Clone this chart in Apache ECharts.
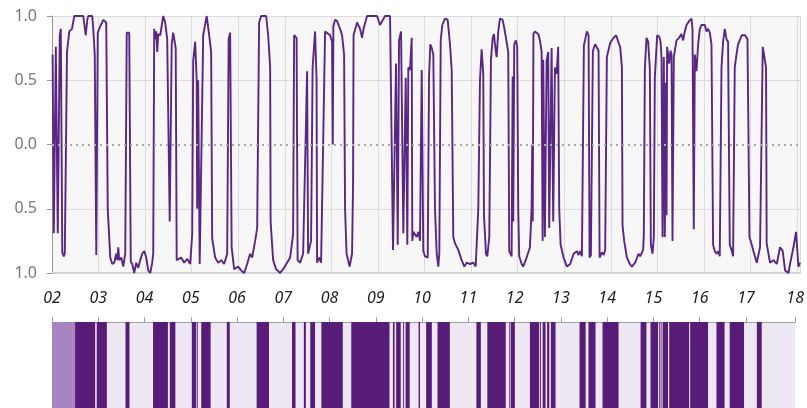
<!DOCTYPE html>
<html>
<head>
<meta charset="utf-8">
<script src="https://cdn.jsdelivr.net/npm/echarts@6/dist/echarts.min.js"></script>
<style>
  html, body { margin: 0; padding: 0; background: #fff; }
  #regime_chart { width: 807px; height: 408px; }
</style>
</head>
<body>
<div id="regime_chart"></div>
<script>
// years on the x axis (decimal years)
var dates = [
  2002.013, 2002.039, 2002.082, 2002.124, 2002.167, 2002.189, 2002.221, 2002.253, 2002.275, 2002.322,
  2002.371, 2002.429, 2002.479, 2002.672, 2002.725, 2002.758, 2002.779, 2002.865, 2002.886, 2002.918,
  2002.951, 2002.983, 2003.036, 2003.101, 2003.165, 2003.197, 2003.251, 2003.294, 2003.337, 2003.380,
  2003.401, 2003.423, 2003.444, 2003.487, 2003.530, 2003.573, 2003.605, 2003.659, 2003.691, 2003.723,
  2003.766, 2003.809, 2003.852, 2003.895, 2003.938, 2003.981, 2004.024, 2004.067, 2004.110, 2004.152,
  2004.174, 2004.195, 2004.217, 2004.238, 2004.260, 2004.281, 2004.324, 2004.388, 2004.431, 2004.474,
  2004.528, 2004.571, 2004.603, 2004.657, 2004.678, 2004.710, 2004.775, 2004.839, 2004.903, 2004.968,
  2005.011, 2005.032, 2005.075, 2005.107, 2005.118, 2005.139, 2005.172, 2005.204, 2005.247, 2005.322,
  2005.376, 2005.418, 2005.440, 2005.504, 2005.569, 2005.633, 2005.697, 2005.762, 2005.794, 2005.826,
  2005.858, 2005.912, 2005.998, 2006.062, 2006.127, 2006.191, 2006.255, 2006.298, 2006.363, 2006.406,
  2006.448, 2006.491, 2006.599, 2006.642, 2006.685, 2006.695, 2006.749, 2006.813, 2006.899, 2006.963,
  2007.049, 2007.114, 2007.178, 2007.200, 2007.253, 2007.275, 2007.328, 2007.393, 2007.479, 2007.500,
  2007.564, 2007.597, 2007.650, 2007.682, 2007.693, 2007.736, 2007.779, 2007.865, 2007.972, 2008.015,
  2008.030, 2008.043, 2008.079, 2008.122, 2008.187, 2008.230, 2008.273, 2008.294, 2008.326, 2008.391,
  2008.444, 2008.466, 2008.476, 2008.552, 2008.616, 2008.659, 2008.691, 2008.766, 2008.981, 2009.045,
  2009.152, 2009.260, 2009.324, 2009.345, 2009.388, 2009.425, 2009.453, 2009.496, 2009.528, 2009.545,
  2009.582, 2009.597, 2009.631, 2009.652, 2009.689, 2009.725, 2009.738, 2009.760, 2009.833, 2009.867,
  2009.903, 2009.940, 2009.974, 2010.011, 2010.069, 2010.097, 2010.124, 2010.155, 2010.189, 2010.225,
  2010.262, 2010.296, 2010.318, 2010.348, 2010.382, 2010.440, 2010.498, 2010.547, 2010.584, 2010.618,
  2010.655, 2010.725, 2010.798, 2010.854, 2010.906, 2010.976, 2011.047, 2011.099, 2011.155, 2011.191,
  2011.227, 2011.262, 2011.277, 2011.320, 2011.348, 2011.391, 2011.427, 2011.464, 2011.492, 2011.513,
  2011.549, 2011.584, 2011.620, 2011.678, 2011.706, 2011.749, 2011.798, 2011.820, 2011.871, 2011.893,
  2011.906, 2011.927, 2011.964, 2011.991, 2012.013, 2012.034, 2012.086, 2012.120, 2012.193, 2012.264,
  2012.300, 2012.313, 2012.324, 2012.339, 2012.371, 2012.443, 2012.479, 2012.515, 2012.537, 2012.550,
  2012.586, 2012.622, 2012.657, 2012.678, 2012.730, 2012.764, 2012.801, 2012.837, 2012.871, 2012.893,
  2012.923, 2012.987, 2013.058, 2013.129, 2013.202, 2013.273, 2013.309, 2013.343, 2013.380, 2013.423,
  2013.487, 2013.524, 2013.545, 2013.573, 2013.616, 2013.665, 2013.702, 2013.738, 2013.760, 2013.809,
  2013.846, 2013.880, 2013.916, 2013.987, 2014.060, 2014.116, 2014.168, 2014.202, 2014.239, 2014.253,
  2014.288, 2014.346, 2014.410, 2014.453, 2014.524, 2014.597, 2014.631, 2014.695, 2014.710, 2014.732,
  2014.768, 2014.803, 2014.839, 2014.861, 2014.897, 2014.925, 2014.946, 2014.996, 2015.039, 2015.069,
  2015.090, 2015.112, 2015.140, 2015.161, 2015.183, 2015.198, 2015.210, 2015.232, 2015.253, 2015.283,
  2015.305, 2015.326, 2015.354, 2015.412, 2015.468, 2015.517, 2015.554, 2015.590, 2015.627, 2015.683,
  2015.734, 2015.755, 2015.783, 2015.805, 2015.841, 2015.876, 2015.913, 2015.949, 2016.020, 2016.056,
  2016.090, 2016.127, 2016.163, 2016.198, 2016.234, 2016.271, 2016.305, 2016.341, 2016.378, 2016.412,
  2016.449, 2016.485, 2016.519, 2016.556, 2016.592, 2016.627, 2016.663, 2016.700, 2016.734, 2016.813,
  2016.884, 2016.936, 2016.979, 2017.028, 2017.065, 2017.135, 2017.206, 2017.264, 2017.292, 2017.335,
  2017.348, 2017.421, 2017.494, 2017.565, 2017.635, 2017.693, 2017.743, 2017.816, 2017.850, 2017.923,
  2017.979, 2018.030, 2018.064
];

// signal value at each date, +1 top of the plot, -1 bottom
var values = [
  0.70, -0.69, 0.76, -0.69, 0.85, 0.90, -0.84, -0.87, -0.85, 0.72,
  0.88, 0.90, 1.00, 1.00, 0.85, 0.97, 1.00, 1.00, 0.90, 0.70,
  -0.86, 0.87, 0.92, 0.97, 0.95, -0.50, -0.88, -0.93, -0.92, -0.85,
  -0.90, -0.80, -0.90, -0.88, -0.95, -0.85, 0.87, 0.87, -0.91, -0.93,
  -1.00, -0.92, -0.96, -0.90, -0.85, -0.83, -0.88, -0.98, -1.00, -0.92,
  -0.85, 0.90, 0.82, 0.88, 0.72, 0.86, 0.85, 1.00, 0.95, 0.82,
  -0.60, 0.78, 0.87, 0.75, -0.90, -0.90, -0.88, -0.92, -0.89, -0.93,
  -0.70, 0.65, 0.80, 0.50, -0.50, 0.50, -0.93, -0.92, 0.85, 1.00,
  0.85, 0.72, -0.73, -0.88, -0.92, -0.90, -0.93, -0.85, 0.82, 0.87,
  -0.80, -0.97, -0.95, -0.98, -1.00, -0.93, -0.85, -0.88, -0.75, -0.65,
  0.95, 1.00, 1.00, 0.85, 0.60, -0.60, -0.90, -0.97, -1.00, -0.97,
  -0.92, -0.88, -0.70, 0.85, 0.83, -0.90, -0.92, -0.85, 0.57, -0.85,
  -0.75, 0.60, 0.88, 0.50, -0.92, -0.88, -0.92, 0.88, 0.85, 0.80,
  0.00, 0.92, 0.97, 0.96, 0.90, 0.85, 0.70, -0.50, -0.85, -0.95,
  -0.85, -0.30, 0.85, 0.95, 0.90, 0.83, 0.90, 1.00, 1.00, 0.93,
  1.00, 1.00, -0.82, -0.82, 0.63, -0.78, 0.81, 0.88, 0.88, -0.69,
  -0.70, 0.52, -0.78, 0.60, 0.58, 0.83, -0.75, -0.68, -0.72, -0.68,
  -0.75, 0.58, -0.83, -0.87, -0.88, 0.52, 0.78, 0.75, 0.70, -0.50,
  -0.85, -0.95, -0.85, 0.81, 0.93, 0.98, 0.97, 0.78, 0.58, -0.72,
  -0.77, -0.82, -0.90, -0.95, -0.92, -0.93, -0.92, -0.95, -0.50, 0.50,
  0.74, 0.55, -0.55, -0.85, -0.87, -0.72, 0.66, 0.83, 0.86, 0.78,
  0.68, 0.88, 0.98, 0.97, 0.92, 0.83, 0.72, -0.83, -0.87, 0.53,
  -0.60, 0.78, 0.81, 0.76, -0.50, -0.87, -0.93, -0.95, -0.88, -0.80,
  -0.50, 0.00, -0.60, 0.86, 0.88, 0.86, 0.81, 0.72, -0.75, 0.66,
  -0.72, 0.65, 0.72, -0.65, 0.75, -0.60, 0.60, 0.55, 0.76, -0.50,
  -0.78, -0.88, -0.95, -0.93, -0.85, -0.83, -0.86, -0.83, -0.87, 0.77,
  0.88, 0.85, -0.88, -0.86, 0.73, 0.78, 0.79, 0.73, -0.88, -0.84,
  -0.86, -0.82, 0.68, 0.79, 0.83, 0.85, 0.79, 0.76, 0.60, -0.63,
  -0.75, -0.88, -0.93, -0.95, -0.92, -0.85, -0.87, -0.82, -0.70, 0.59,
  0.83, 0.80, 0.59, -0.78, -0.85, -0.72, 0.52, 0.85, 0.84, 0.80,
  0.68, -0.72, 0.68, -0.72, 0.48, -0.55, 0.76, 0.70, 0.63, 0.73,
  0.70, -0.75, 0.68, 0.81, 0.83, 0.86, 0.81, 0.88, 0.93, 0.96,
  0.98, 0.90, -0.66, 0.70, 0.57, 0.78, 0.90, 0.93, 0.93, 0.88,
  0.90, 0.87, 0.78, -0.78, -0.83, -0.85, -0.83, -0.87, 0.60, 0.80,
  0.90, 0.82, 0.80, -0.78, -0.82, -0.87, 0.60, 0.70, 0.78, 0.85,
  0.85, 0.82, -0.72, -0.78, -0.83, -0.92, -0.80, 0.76, 0.77, 0.60,
  -0.77, -0.92, -0.90, -0.93, -0.80, -0.83, -0.98, -1.00, -0.93, -0.80,
  -0.68, -0.95, -0.92
];

// tick labels for the years 2002..2018
var yearLabels = ['02', '03', '04', '05', '06', '07', '08', '09', '10',
  '11', '12', '13', '14', '15', '16', '17', '18'];
var firstYear = 2002;
var lastDate = 2018.064;
var warmupEnd = 2002.5; // start of the strip drawn in the pale tone

var lineColor = '#5a2685';
var stripLight = '#ede8f3';
var stripDark = '#571c78';
var stripWarm = '#a685c0';

// regime strip: [start, end, colour] spans, dark where the signal is above zero
function buildStrip() {
  var segs = [];
  var start = null;
  for (var i = 0; i < dates.length - 1; i++) {
    var x0 = dates[i], x1 = dates[i + 1];
    var v0 = values[i], v1 = values[i + 1];
    if (i === 0 && v0 > 0) start = firstYear;
    var up0 = v0 > 0, up1 = v1 > 0;
    if (up0 !== up1) {
      var xc = x0 + (x1 - x0) * v0 / (v0 - v1);
      if (up1) start = xc;
      else { segs.push([start, xc, stripDark]); start = null; }
    }
  }
  if (start !== null) segs.push([start, lastDate, stripDark]);
  segs.push([firstYear, warmupEnd, stripWarm]);
  return segs;
}

var stripSegs = buildStrip();

var chart = echarts.init(document.getElementById('regime_chart'));
var lineData = dates.map(function (d, i) { return [d, values[i]]; });

var option = {
  animation: false,
  grid: [
    { left: 52, right: 7, top: 16, height: 257, show: true, backgroundColor: '#f7f7f7', borderWidth: 0 },
    { left: 52, right: 7, top: 322, height: 86, show: true, backgroundColor: stripLight, borderWidth: 0 }
  ],
  xAxis: [
    {
      gridIndex: 0,
      type: 'value',
      min: firstYear,
      max: lastDate,
      interval: 1,
      axisLine: { onZero: false, lineStyle: { color: '#d4d4d4', width: 2 } },
      axisTick: { show: false },
      axisLabel: { show: false },
      splitLine: { show: true, lineStyle: { color: '#dcdcdc', width: 1 } }
    },
    {
      gridIndex: 1,
      type: 'value',
      position: 'top',
      min: firstYear,
      max: lastDate,
      interval: 1,
      axisLine: { onZero: false, lineStyle: { color: '#a0a0a0', width: 1 } },
      axisTick: { show: true, length: 5, lineStyle: { color: '#a0a0a0' } },
      axisLabel: {
        show: true,
        margin: 16,
        fontSize: 16,
        fontStyle: 'italic',
        fontFamily: 'Noto Sans',
        color: '#1e1e1e',
        showMaxLabel: true,
        formatter: function (v) { return yearLabels[Math.round(v) - firstYear]; }
      },
      splitLine: { show: false }
    }
  ],
  yAxis: [
    {
      gridIndex: 0,
      type: 'value',
      min: -1,
      max: 1,
      interval: 0.5,
      axisLine: { show: true, lineStyle: { color: '#9a9a9a', width: 1 } },
      axisTick: { show: true, length: 5, lineStyle: { color: '#9a9a9a' } },
      axisLabel: {
        margin: 15,
        fontSize: 16,
        fontFamily: 'Noto Sans',
        color: '#777',
        formatter: function (v) { return Math.abs(v).toFixed(1); }
      },
      splitLine: {
        show: true,
        lineStyle: { color: ['#dcdcdc', '#dcdcdc', 'rgba(0,0,0,0)', '#dcdcdc', '#dcdcdc'], width: 1 }
      }
    },
    {
      gridIndex: 1,
      type: 'value',
      min: 0,
      max: 1,
      show: false
    }
  ],
  series: [
    {
      type: 'line',
      xAxisIndex: 0,
      yAxisIndex: 0,
      data: lineData,
      showSymbol: false,
      lineStyle: { color: lineColor, width: 1.9 },
      markLine: {
        silent: true,
        symbol: 'none',
        label: { show: false },
        lineStyle: { color: '#a8a8a8', type: [2, 4], width: 2 },
        data: [{ yAxis: 0 }]
      },
      z: 3
    },
    {
      type: 'custom',
      xAxisIndex: 1,
      yAxisIndex: 1,
      data: stripSegs.map(function (s) { return [s[0], 0]; }),
      renderItem: function (params, api) {
        var seg = stripSegs[params.dataIndex];
        var p0 = api.coord([seg[0], 1]);
        var p1 = api.coord([seg[1], 0]);
        return {
          type: 'rect',
          shape: { x: p0[0], y: p0[1], width: Math.max(p1[0] - p0[0], 0.8), height: p1[1] - p0[1] },
          style: { fill: seg[2] }
        };
      }
    }
  ]
};

chart.setOption(option);
</script>
</body>
</html>
